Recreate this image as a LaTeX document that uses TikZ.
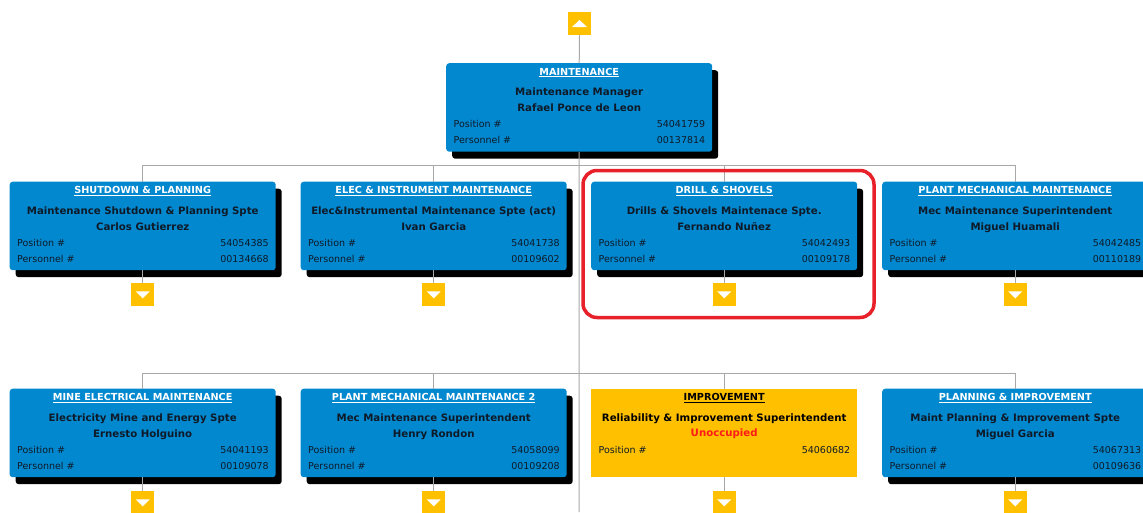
\documentclass[tikz,border=0pt]{standalone}
\usepackage{fontspec}
\setmainfont{DejaVu Sans}
\usetikzlibrary{shadows,calc}
\definecolor{boxblue}{HTML}{0288CF}
\definecolor{boxyellow}{HTML}{FFC000}
\definecolor{linegrey}{HTML}{A8A8A8}
\definecolor{txtdark}{HTML}{0E1A28}
\definecolor{hired}{HTML}{E8202A}
\definecolor{unocc}{HTML}{FF1A1A}
\tikzset{
  cardstyle/.style={draw=none, fill=boxblue, rounded corners=3pt,
    minimum width=266pt, minimum height=88.5pt, inner sep=0pt, anchor=north west,
    drop shadow={shadow xshift=6pt, shadow yshift=-7pt, fill=black, opacity=1}},
  impstyle/.style={draw=none, fill=boxyellow,
    minimum width=266pt, minimum height=88.5pt, inner sep=0pt, anchor=north west},
  ttl/.style={anchor=base, inner sep=0pt, text=white, font=\fontsize{9.7}{11}\selectfont\bfseries},
  job/.style={anchor=base, inner sep=0pt, text=txtdark, font=\fontsize{10.2}{12}\selectfont\bfseries},
  lbl/.style={anchor=base west, inner sep=0pt, text=txtdark, font=\fontsize{9.5}{11}\selectfont},
  num/.style={anchor=base east, inner sep=0pt, text=txtdark, font=\fontsize{9.5}{11}\selectfont},
  arrbox/.style={draw=none, fill=boxyellow, minimum size=23pt, inner sep=0pt},
  conn/.style={draw=linegrey, line width=1pt},
  focus/.style={draw=hired, line width=3.5pt, rounded corners=14pt}
}
\newcommand\orgbox[8]{%
  \node[cardstyle] (#1) at (#2,#3) {};
  \node[ttl] (#1-t) at ($(#1.north)+(0,12)$) {\underline{#4}};
  \node[job] (#1-j) at ($(#1.north)+(0,32.5)$) {#5};
  \node[job] (#1-n) at ($(#1.north)+(0,48.5)$) {#6};
  \node[lbl] (#1-pl) at ($(#1.north west)+(7.5,64.5)$) {Position \#};
  \node[num] (#1-pv) at ($(#1.north east)+(-7,64.5)$) {#7};
  \node[lbl] (#1-ql) at ($(#1.north west)+(7.5,80.5)$) {Personnel \#};
  \node[num] (#1-qv) at ($(#1.north east)+(-7,80.5)$) {#8};
}
\newcommand\arrbtn[2]{%
  \node[arrbox] (#1) at (#2) {};
  \fill[white] ($(#1.center)+(-7,-3.5)$) -- ($(#1.center)+(7,-3.5)$) -- ($(#1.center)+(0,3.5)$) -- cycle;
}
\begin{document}
\begin{tikzpicture}[x=1pt,y=-1pt]
\useasboundingbox (0,0) rectangle (1143,512);
\clip (0,0) rectangle (1143,512);

% top (up) button
\node[arrbox] (up) at (579.5,23.5) {};
\fill[white] ($(up.center)+(-7.5,3.5)$) -- ($(up.center)+(7.5,3.5)$) -- ($(up.center)+(0,-3.5)$) -- cycle;

% manager
\orgbox{mgr}{446}{63}{MAINTENANCE}{Maintenance Manager}{Rafael Ponce de Leon}{54041759}{00137814}

% row 1
\orgbox{c1}{9.5}{181.5}{SHUTDOWN \& PLANNING}{Maintenance Shutdown \& Planning Spte}{Carlos Gutierrez}{54054385}{00134668}
\orgbox{c2}{300.5}{181.5}{ELEC \& INSTRUMENT MAINTENANCE}{Elec\&Instrumental Maintenance Spte (act)}{Ivan Garcia}{54041738}{00109602}
\orgbox{c3}{591}{181.5}{DRILL \& SHOVELS}{Drills \& Shovels Maintenace Spte.}{Fernando Nuñez}{54042493}{00109178}
\orgbox{c4}{882}{181.5}{PLANT MECHANICAL MAINTENANCE}{Mec Maintenance Superintendent}{Miguel Huamali}{54042485}{00110189}

% row 2
\orgbox{d1}{9.5}{388.5}{MINE ELECTRICAL MAINTENANCE}{Electricity Mine and Energy Spte}{Ernesto Holguino}{54041193}{00109078}
\orgbox{d2}{300.5}{388.5}{PLANT MECHANICAL MAINTENANCE 2}{Mec Maintenance Superintendent}{Henry Rondon}{54058099}{00109208}
\node[impstyle] (d3) at (591,388.5) {};
\node[ttl, text=black] (d3-t) at ($(d3.north)+(0,12)$) {\underline{IMPROVEMENT}};
\node[job, text=black] (d3-j) at ($(d3.north)+(0,32.5)$) {Reliability \& Improvement Superintendent};
\node[job, text=unocc] (d3-n) at ($(d3.north)+(0,48)$) {Unoccupied};
\node[lbl] (d3-pl) at ($(d3.north west)+(7.5,64.5)$) {Position \#};
\node[num] (d3-pv) at ($(d3.north east)+(-7,64.5)$) {54060682};
\orgbox{d4}{882}{388.5}{PLANNING \& IMPROVEMENT}{Maint Planning \& Improvement Spte}{Miguel Garcia}{54067313}{00109636}

% connectors
\coordinate (bus1) at (0,165);
\coordinate (bus2) at (0,373);
\coordinate (bottom) at (579,512);
\draw[conn] (up.south) -- (mgr.north);
\draw[conn] (mgr.south) -- (bottom);
\draw[conn] (c1.north) -- (c1.north |- bus1) -- (c4.north |- bus1) -- (c4.north);
\draw[conn] (c2.north) -- (c2.north |- bus1);
\draw[conn] (c3.north) -- (c3.north |- bus1);
\draw[conn] (d1.north) -- (d1.north |- bus2) -- (d4.north |- bus2) -- (d4.north);
\draw[conn] (d2.north) -- (d2.north |- bus2);
\draw[conn] (d3.north) -- (d3.north |- bus2);

% expand buttons
\arrbtn{a1}{$(c1.south)+(0,24.5)$}
\arrbtn{a2}{$(c2.south)+(0,24.5)$}
\arrbtn{a3}{$(c3.south)+(0,24.5)$}
\arrbtn{a4}{$(c4.south)+(0,24.5)$}
\arrbtn{b1}{$(d1.south)+(0,25.5)$}
\arrbtn{b2}{$(d2.south)+(0,25.5)$}
\arrbtn{b3}{$(d3.south)+(0,25.5)$}
\arrbtn{b4}{$(d4.south)+(0,25.5)$}
\foreach \k in {1,2,3,4}{
  \draw[conn] (c\k.south) -- (a\k.north);
  \draw[conn] (d\k.south) -- (b\k.north);
}

% highlight
\draw[focus] (583,170.5) rectangle (874,317.5);
\end{tikzpicture}
\end{document}
